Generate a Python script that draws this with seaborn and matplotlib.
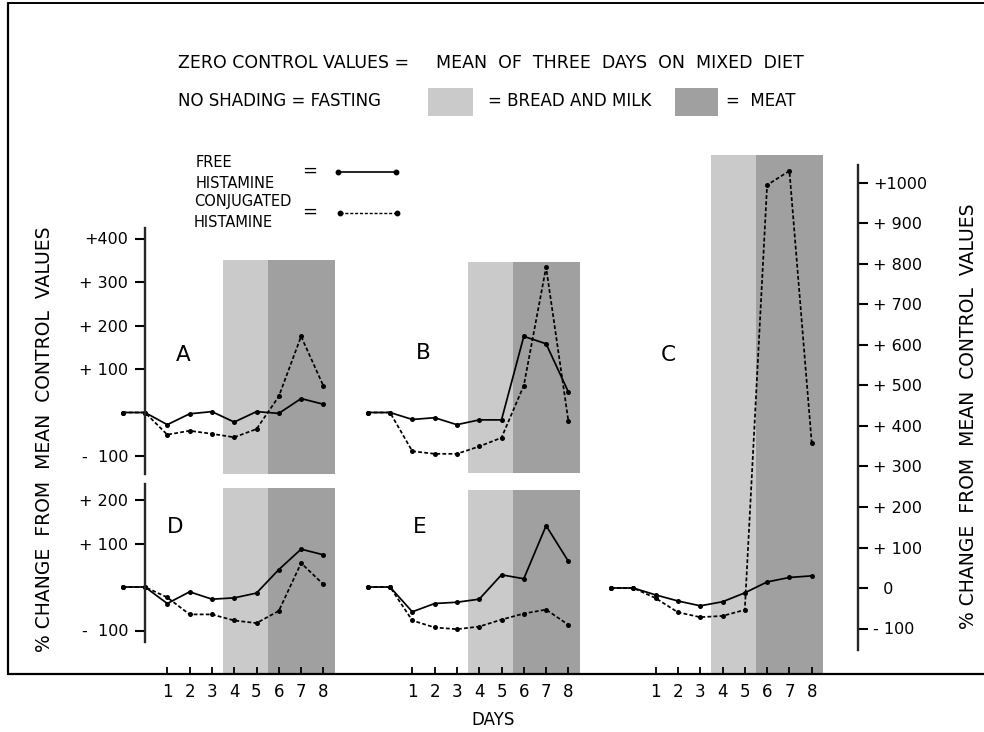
import matplotlib
matplotlib.use("Agg")
import numpy as np
import pandas as pd
import matplotlib.pyplot as plt
import seaborn as sns
from matplotlib.lines import Line2D
from matplotlib.patches import Rectangle

# ---------------- data ----------------
days = [-1, 0, 1, 2, 3, 4, 5, 6, 7, 8]

A_free = [0, 0, -28, -3, 2, -22, 2, -2, 32, 19]
A_conj = [0, 0, -51, -42, -49, -57, -38, 37, 175, 61]
B_free = [0, 0, -16, -12, -28, -17, -17, 175, 158, 47]
B_conj = [0, 0, -89, -95, -95, -78, -58, 62, 334, -20]
C_free = [0, 0, -17, -32, -44, -34, -12, 15, 26, 30]
C_conj = [0, 0, -25, -60, -72, -69, -54, 995, 1030, 359]
D_free = [0, 0, -38, -11, -28, -25, -14, 40, 87, 74]
D_conj = [0, 0, -24, -63, -63, -77, -83, -55, 55, 6]
E_free = [0, 0, -57, -38, -35, -28, 28, 19, 141, 59]
E_conj = [0, 0, -77, -93, -97, -91, -75, -61, -52, -87]

bread_days = [3.5, 5.5]
meat_days = [5.5, 8.5]
day_ticks = [1, 2, 3, 4, 5, 6, 7, 8]

left_ticks_top = [400, 300, 200, 100, -100]
left_labels_top = ["+400", "+ 300", "+ 200", "+ 100", "-  100"]
left_ticks_bot = [200, 100, -100]
left_labels_bot = ["+ 200", "+ 100", "-  100"]
right_ticks = [1000, 900, 800, 700, 600, 500, 400, 300, 200, 100, 0, -100]
right_labels = ["+1000", "+ 900", "+ 800", "+ 700", "+ 600", "+ 500", "+ 400",
                "+ 300", "+ 200", "+ 100", "  0", "- 100"]

series = {"A": (A_free, A_conj), "B": (B_free, B_conj), "C": (C_free, C_conj),
          "D": (D_free, D_conj), "E": (E_free, E_conj)}
rows = []
for p, (fr, cj) in series.items():
    for d, v in zip(days, fr):
        rows.append((p, d, v, "Free"))
    for d, v in zip(days, cj):
        rows.append((p, d, v, "Conjugated"))
df = pd.DataFrame(rows, columns=["panel", "day", "value", "kind"])

# ---------------- style ----------------
sns.set_style("white")
plt.rcParams["font.family"] = ["DejaVu Sans"]
plt.rcParams["axes.facecolor"] = "none"
for k in ["text.color", "xtick.color", "ytick.color", "axes.labelcolor",
          "xtick.labelcolor", "ytick.labelcolor"]:
    plt.rcParams[k] = "black"

W, H = 984, 732
fig = plt.figure(figsize=(W / 100, H / 100), dpi=100)
fig.patch.set_facecolor("white")

DX = 22.3  # px per day
LIGHT = "#cacaca"
DARK = "#a0a0a0"


def panel_axes(day0, zero, ppu, xlim, ylim):
    left = day0 + xlim[0] * DX
    right = day0 + xlim[1] * DX
    top = zero - ylim[1] * ppu
    bottom = zero - ylim[0] * ppu
    ax = fig.add_axes([left / W, 1 - bottom / H, (right - left) / W, (bottom - top) / H])
    ax.set_xlim(xlim)
    ax.set_ylim(ylim)
    for s in ax.spines.values():
        s.set_visible(False)
    ax.set_xticks([])
    ax.set_yticks([])
    return ax


xl12 = (-1.6, 8.7)
axA = panel_axes(145, 412.5, 0.435, xl12, (-141, 424))
axB = panel_axes(390, 412.5, 0.435, xl12, (-141, 424))
axD = panel_axes(145, 587, 0.435, xl12, (-202, 237))
axE = panel_axes(390, 587, 0.435, xl12, (-202, 237))
axC = panel_axes(633.3, 588, 0.405, (-1.5, 10.08), (-215, 1069))

shade = {"A": (-141, 350), "B": (-139, 347), "C": (-215, 1069),
         "D": (-202, 228), "E": (-202, 224)}
axes = {"A": axA, "B": axB, "C": axC, "D": axD, "E": axE}

for p, ax in axes.items():
    lo, hi = shade[p]
    ax.fill_between(bread_days, lo, hi, color=LIGHT, lw=0, zorder=0)
    ax.fill_between(meat_days, lo, hi, color=DARK, lw=0, zorder=0)
    sub = df[df.panel == p]
    sns.lineplot(data=sub, x="day", y="value", style="kind",
                 markers={"Free": "o", "Conjugated": "o"},
                 dashes={"Free": "", "Conjugated": (2.2, 1.3)},
                 color="black", lw=1.25, markersize=3.6, markeredgewidth=0,
                 legend=False, ax=ax, clip_on=False, zorder=3)
    ax.set_xlabel("")
    ax.set_ylabel("")

# left axes A and D
for ax, tk, lb, bounds in [(axA, left_ticks_top, left_labels_top, None),
                           (axD, left_ticks_bot, left_labels_bot, (-126, 237))]:
    sp = ax.spines["left"]
    sp.set_visible(True)
    sp.set_position(("data", 0))
    sp.set_linewidth(1.7)
    sp.set_zorder(4)
    if bounds:
        sp.set_bounds(*bounds)
    ax.set_yticks(tk)
    ax.set_yticklabels(lb)
    ax.tick_params(axis="y", left=True, direction="out", length=7, width=1.5,
                   pad=5, labelsize=11.5)

# right axis C
sp = axC.spines["right"]
sp.set_visible(True)
sp.set_linewidth(1.7)
sp.set_bounds(-153, 1044)
axC.yaxis.tick_right()
axC.set_yticks(right_ticks)
axC.set_yticklabels(right_labels)
axC.tick_params(axis="y", right=True, left=False, direction="out", length=7,
                width=1.5, pad=4, labelsize=11.5)

# bottom day ticks
for ax in (axD, axE, axC):
    ax.set_xticks(day_ticks)
    ax.set_xticklabels([str(d) for d in day_ticks])
    ax.tick_params(axis="x", bottom=True, direction="in", length=6, width=1.3,
                   pad=6, labelsize=12)

# frame lines
fig.add_artist(Line2D([8 / W, 1.0], [1 - 674 / H] * 2, transform=fig.transFigure,
                      color="black", lw=1.6))
fig.add_artist(Line2D([8 / W] * 2, [1 - 3 / H, 1 - 674 / H], transform=fig.transFigure,
                      color="black", lw=1.6))
fig.add_artist(Line2D([8 / W, 1.0], [1 - 3 / H] * 2, transform=fig.transFigure,
                      color="black", lw=1.4))

# panel letters
for t, (x, y) in {"A": (183, 355), "B": (423, 353), "C": (668, 355),
                  "D": (175, 527), "E": (420, 527)}.items():
    fig.text(x / W, 1 - y / H, t, fontsize=15.5, ha="center", va="center")

# header
fig.text(178 / W, 1 - 63 / H, "ZERO CONTROL VALUES =", fontsize=12.5,
         va="center", ha="left")
fig.text(436 / W, 1 - 63 / H, "MEAN  OF  THREE  DAYS  ON  MIXED  DIET", fontsize=12.5,
         va="center", ha="left")
fig.text(178 / W, 1 - 101 / H, "NO SHADING = FASTING", fontsize=12, va="center", ha="left")
fig.add_artist(Rectangle((428 / W, 1 - 116 / H), 45 / W, 28 / H,
                         transform=fig.transFigure, color=LIGHT, lw=0))
fig.text(488 / W, 1 - 101 / H, "= BREAD AND MILK", fontsize=12, va="center", ha="left")
fig.add_artist(Rectangle((675 / W, 1 - 116 / H), 43 / W, 28 / H,
                         transform=fig.transFigure, color=DARK, lw=0))
fig.text(726 / W, 1 - 101 / H, "=  MEAT", fontsize=12, va="center", ha="left")

# line legend
fig.text(196 / W, 1 - 173 / H, "FREE\nHISTAMINE", fontsize=10.5,
         va="center", ha="left", linespacing=1.45)
fig.text(194 / W, 1 - 212 / H, "CONJUGATED\nHISTAMINE", fontsize=10.5,
         va="center", ha="left", linespacing=1.45)
fig.text(310 / W, 1 - 171 / H, "=", fontsize=13, va="center", ha="center")
fig.text(310 / W, 1 - 212 / H, "=", fontsize=13, va="center", ha="center")
fig.add_artist(Line2D([338 / W, 396 / W], [1 - 172 / H] * 2, transform=fig.transFigure,
                      color="black", lw=1.2, marker="o", ms=3.2))
fig.add_artist(Line2D([340 / W, 397 / W], [1 - 213 / H] * 2, transform=fig.transFigure,
                      color="black", lw=1.0, ls=(0, (2.2, 1.3)), marker="o", ms=3.2))

# axis titles
ylab = "% CHANGE  FROM  MEAN  CONTROL  VALUES"
fig.text(45 / W, 1 - 439 / H, ylab, rotation=90, fontsize=13.5, ha="center", va="center")
fig.text(968 / W, 1 - 416 / H, ylab, rotation=90, fontsize=13.5, ha="center", va="center")
fig.text(493 / W, 1 - 720 / H, "DAYS", fontsize=12, ha="center", va="center")

fig.savefig("out.png", dpi=100, facecolor="white")
